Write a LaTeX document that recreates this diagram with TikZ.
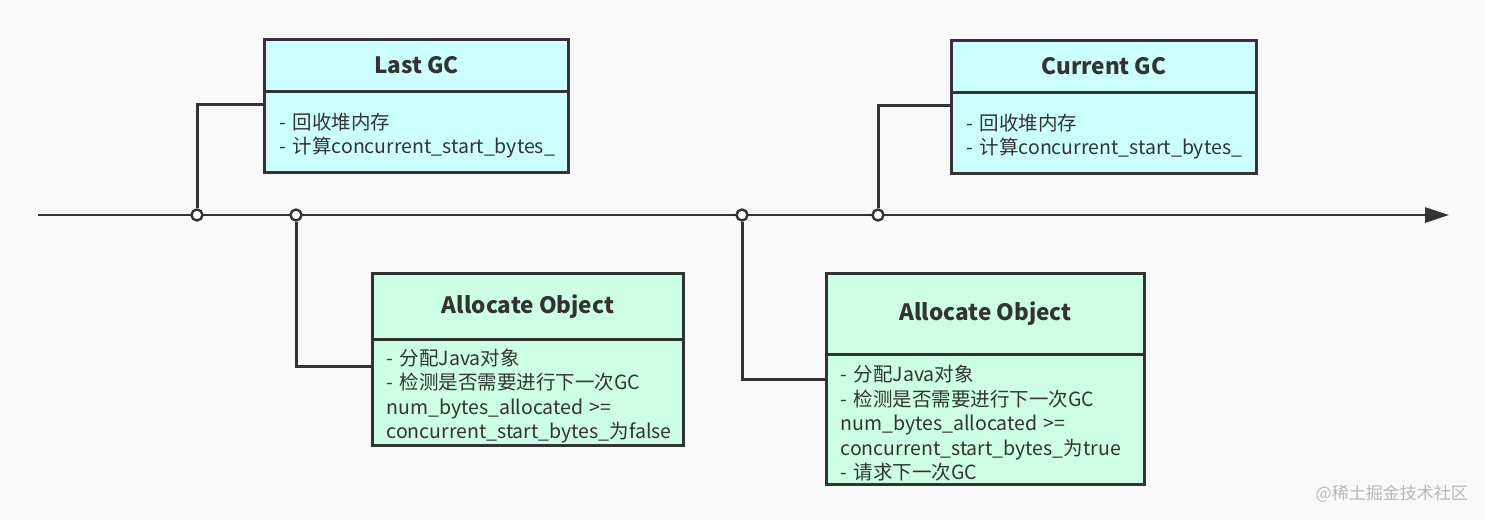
\documentclass[tikz,border=0pt]{standalone}
\usepackage{fontspec}
\setmainfont{Noto Sans CJK SC}
\usetikzlibrary{arrows.meta}
\definecolor{ln}{HTML}{333333}
\definecolor{cy}{HTML}{CCFFFF}
\definecolor{gr}{HTML}{CCFFE6}
\definecolor{bg}{HTML}{F9F9F9}
\definecolor{wm}{HTML}{B8B8B8}
\newcommand{\firststrut}{\rule{0pt}{24pt}}
\hyphenpenalty=10000
\exhyphenpenalty=10000
\begin{document}
\begin{tikzpicture}[x=1pt,y=-1pt,
  box/.style={draw=ln, line width=3pt, anchor=north west, inner ysep=0pt, text=ln},
  titlebox/.style={box, inner xsep=0pt, align=center, font=\fontsize{22.5}{26}\selectfont\bfseries},
  bodybox/.style={box, inner xsep=15pt, align=left, font=\fontsize{19.5}{24.5}\selectfont},
  conn/.style={draw=ln, line width=3pt},
  dot/.style={circle, draw=ln, fill=white, line width=2.4pt, inner sep=0pt, minimum size=11pt}]
\useasboundingbox (0,0) rectangle (1485,520);
\fill[bg] (0,0) rectangle (1485,520);

% timeline
\coordinate (ts) at (38,215);
\coordinate (te) at (1449,215);
\draw[conn, line width=2.8pt, -{Triangle[length=24pt,width=15pt]}] (ts) -- (te);

% boxes
\node[titlebox, fill=cy, minimum width=304pt, minimum height=52pt] (lastT) at (263,38) {Last GC};
\node[bodybox, fill=cy, text width=274pt, minimum height=81pt] (lastB) at (263,90)
  {\firststrut-~回收堆内存\\-~计算concurrent\_start\_bytes\_};

\node[titlebox, fill=cy, minimum width=305pt, minimum height=52pt] (curT) at (950,39) {Current GC};
\node[bodybox, fill=cy, text width=275pt, minimum height=81pt] (curB) at (950,91)
  {\firststrut-~回收堆内存\\-~计算concurrent\_start\_bytes\_};

\node[titlebox, fill=gr, minimum width=311pt, minimum height=66pt] (a1T) at (371,272) {Allocate Object};
\node[bodybox, fill=gr, text width=283pt, minimum height=106pt, inner xsep=14pt] (a1B) at (371,338)
  {\firststrut-~分配Java对象\\-~检测是否需要进行下一次GC\\num\_bytes\_allocated~>=\\concurrent\_start\_bytes\_为false};

\node[titlebox, fill=gr, minimum width=318pt, minimum height=81pt] (a2T) at (825,272) {Allocate Object};
\node[bodybox, fill=gr, text width=290pt, minimum height=130pt, inner xsep=14pt] (a2B) at (825,353)
  {\firststrut-~分配Java对象\\-~检测是否需要进行下一次GC\\num\_bytes\_allocated~>=\\concurrent\_start\_bytes\_为true\\-~请求下一次GC};

% attach points
\coordinate (k1) at ([yshift=-14pt]lastB.north west);
\coordinate (k2) at ([yshift=-14pt]curB.north west);
\coordinate (k3) at ([yshift=-28pt]a1B.north west);
\coordinate (k4) at ([yshift=-26pt]a2B.north west);

% circles on timeline
\node[dot] (p1) at (197,215) {};
\node[dot] (p2) at (296,215) {};
\node[dot] (p3) at (742,215) {};
\node[dot] (p4) at (878,215) {};

% connectors
\draw[conn] (p1) |- (k1);
\draw[conn] (p2) |- (k3);
\draw[conn] (p3) |- (k4);
\draw[conn] (p4) |- (k2);

% watermark
\node[anchor=east, text=wm, font=\fontsize{17}{20}\selectfont, inner sep=0pt] (wmk) at (1468,494) {@稀土掘金技术社区};
\end{tikzpicture}
\end{document}
